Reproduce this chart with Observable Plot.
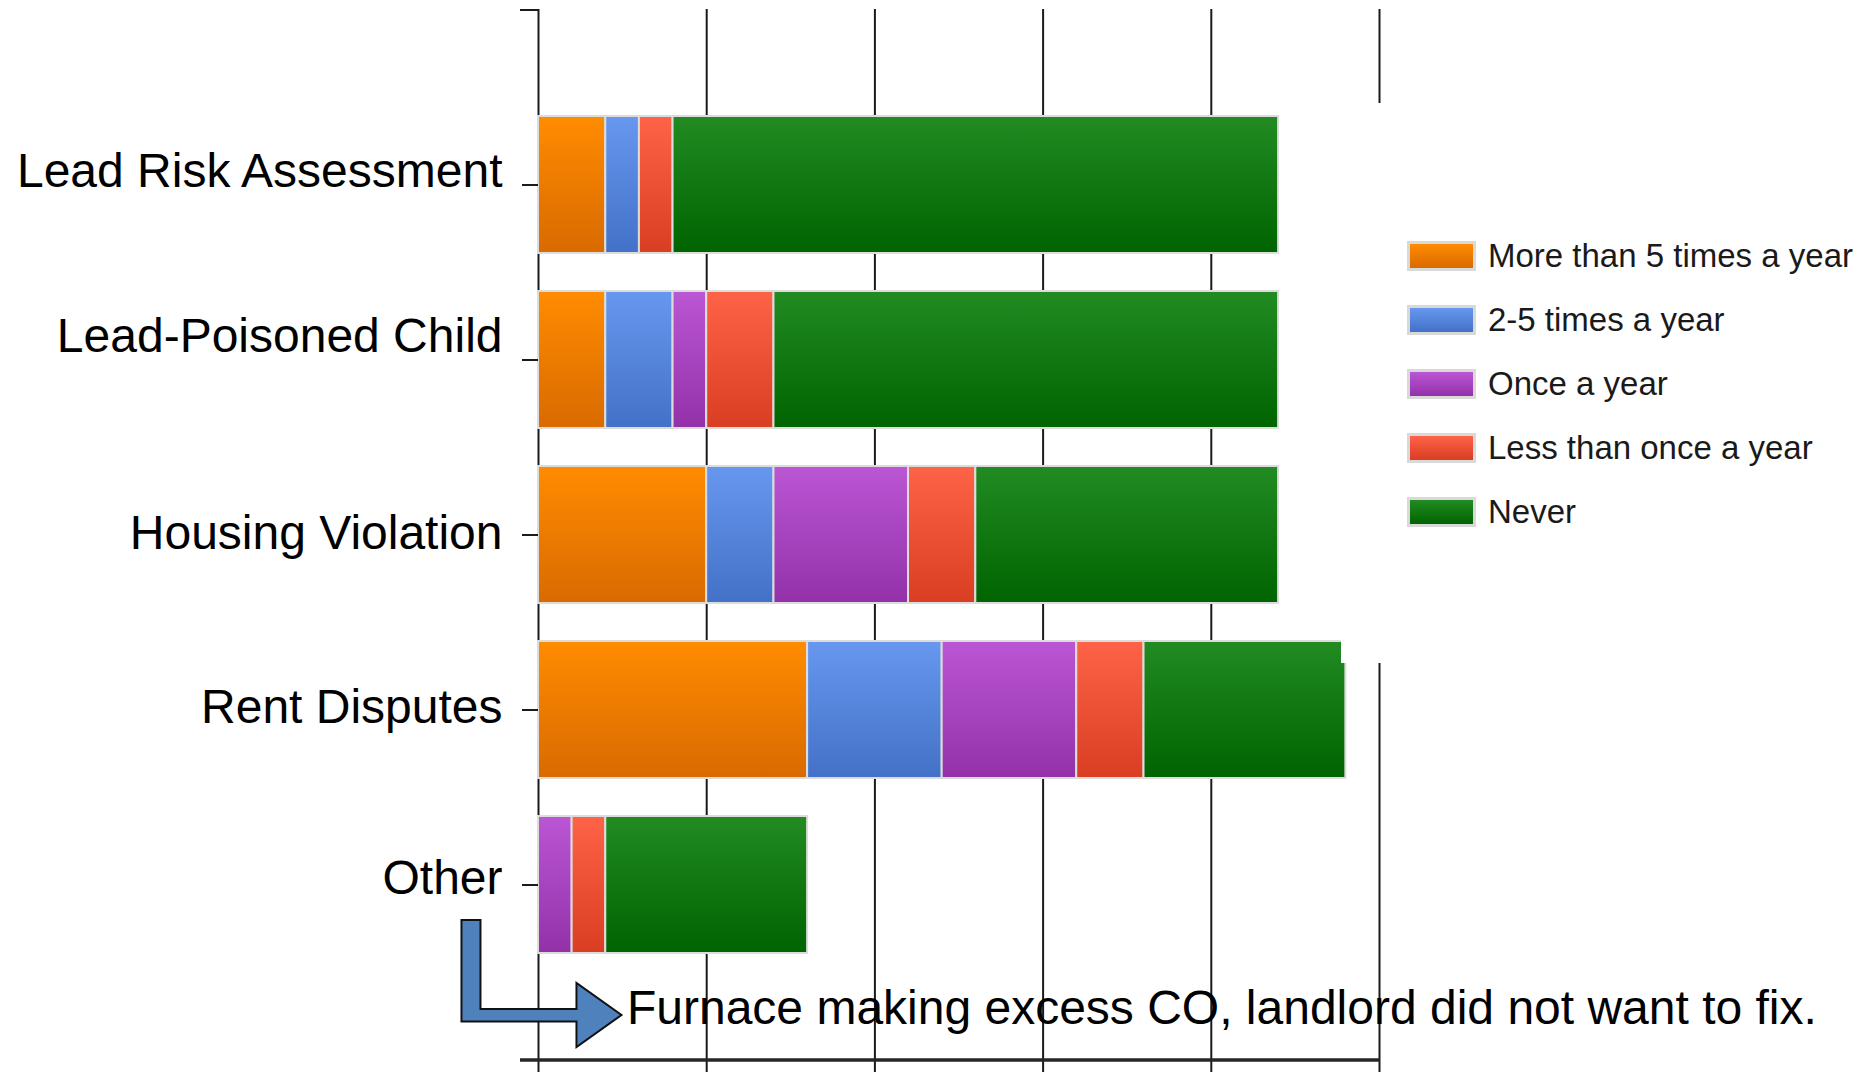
<!DOCTYPE html>
<html>
<head>
<meta charset="utf-8">
<script src="https://cdn.jsdelivr.net/npm/d3@7"></script>
<script src="https://cdn.jsdelivr.net/npm/@observablehq/plot@0.6"></script>
<style>
  html, body { margin: 0; padding: 0; background: #fff; }
  #wrap { position: relative; width: 1864px; height: 1072px; overflow: hidden; }
  #legend { position: absolute; left: 1341px; top: 103px; width: 523px; height: 560px; background: #fff;
            font-family: "Liberation Sans", Arial, sans-serif; font-size: 33px; color: #1a1a1a; }
  .row { position: absolute; left: 66px; height: 30px; display: flex; align-items: center; white-space: nowrap; }
  .sw { width: 63px; height: 24px; border: 3px solid #d9d9d9; margin-right: 12px; flex: none; }
</style>
</head>
<body>
<div id="wrap"><div id="chart"></div><div id="legend"></div></div>
<script>
// ---- data ----
const categories = ["Lead Risk Assessment", "Lead-Poisoned Child", "Housing Violation", "Rent Disputes", "Other"];
const series = ["More than 5 times a year", "2-5 times a year", "Once a year", "Less than once a year", "Never"];
const moreThan5 = [2, 2, 5, 8, 0];
const twoToFive = [1, 2, 2, 4, 0];
const onceAYear = [0, 1, 4, 4, 1];
const lessThanOnce = [1, 2, 2, 2, 1];
const never = [18, 15, 9, 6, 6];
const xTicks = [0, 5, 10, 15, 20, 25];
const noteText = "Furnace making excess CO, landlord did not want to fix.";
const noteX = 2.63;

// ---- styling ----
const gradStops = [
  ["#ff8c00", "#d96a00"],
  ["#6797ee", "#4371c8"],
  ["#bb56d4", "#9331a9"],
  ["#ff6347", "#d93d22"],
  ["#228b22", "#006400"]
];
const gradIds = series.map((s, i) => "grad" + i);
const labelNudge = [-13, -23, -1, -2, -6];

const valuesBySeries = [moreThan5, twoToFive, onceAYear, lessThanOnce, never];
const table = [];
categories.forEach((c, ci) => {
  series.forEach((s, si) => {
    const v = valuesBySeries[si][ci];
    if (v > 0) table.push({category: c, series: s, value: v});
  });
});

function defsLayer() {
  const defs = d3.create("svg:defs");
  gradIds.forEach((id, i) => {
    const g = defs.append("linearGradient").attr("id", id).attr("x1", 0).attr("x2", 0).attr("y1", 0).attr("y2", 1);
    g.append("stop").attr("offset", "0%").attr("stop-color", gradStops[i][0]);
    g.append("stop").attr("offset", "100%").attr("stop-color", gradStops[i][1]);
  });
  return defs.node();
}

function frameLayer(index, scales, values, dims) {
  const g = d3.create("svg:g");
  const left = dims.marginLeft, right = dims.width - dims.marginRight;
  const top = dims.marginTop, bottom = dims.height - dims.marginBottom;
  g.append("line").attr("x1", left - 18).attr("x2", right + 1).attr("y1", bottom).attr("y2", bottom)
    .attr("stroke", "#262626").attr("stroke-width", 3.5);
  g.append("line").attr("x1", left - 18).attr("x2", left + 1).attr("y1", top + 1).attr("y2", top + 1)
    .attr("stroke", "#1a1a1a").attr("stroke-width", 2);
  // block arrow pointing to the note
  const xs = scales && scales.x ? scales.x : (v => left + v * (right - left) / 25);
  const tx = xs(noteX) - 5, ty = bottom - 45;
  const pts = [[-160, -95], [-141, -95], [-141, -6], [-45, -6], [-45, -32], [0, 0], [-45, 32], [-45, 6.5], [-160, 6.5]];
  g.append("polygon").attr("points", pts.map(([dx, dy]) => `${tx + dx},${ty + dy}`).join(" "))
    .attr("fill", "#4f81bd").attr("stroke", "#111").attr("stroke-width", 2).attr("stroke-linejoin", "miter");
  return g.node();
}

const chart = Plot.plot({
  width: 1864,
  height: 1072,
  marginTop: 9,
  marginBottom: 12,
  marginLeft: 538,
  marginRight: 485,
  style: {fontFamily: "'Liberation Sans', Arial, sans-serif", background: "#fff", color: "#000"},
  x: {domain: [0, 25], axis: null},
  y: {type: "band", domain: categories, range: [76, 994], padding: 0.216, axis: null},
  color: {domain: series, range: gradIds.map(id => `url(#${id})`)},
  marks: [
    defsLayer,
    Plot.ruleX(xTicks, {x: d => d, stroke: "#1a1a1a", strokeWidth: 2}),
    Plot.axisX(xTicks, {anchor: "bottom", tickSize: 12, tickFormat: () => "", stroke: "#1a1a1a", strokeWidth: 2, label: null}),
    Plot.barX(table, Plot.stackX({x: "value", y: "category", fill: "series", inset: 0, stroke: "#dcdcdc", strokeWidth: 2})),
    Plot.axisY(categories, {anchor: "left", tickSize: 16, tickFormat: () => "", stroke: "#1a1a1a", strokeWidth: 2, label: null}),
    ...categories.map((c, i) => Plot.text([c], {
      y: d => d, text: d => d, frameAnchor: "left", textAnchor: "end", lineAnchor: "middle",
      dx: -36, dy: labelNudge[i], fontSize: 48, fill: "#000"
    })),
    frameLayer,
    Plot.text([noteText], {
      x: () => noteX, text: d => d, frameAnchor: "bottom", textAnchor: "start", lineAnchor: "middle",
      dy: -52, fontSize: 48, fill: "#000"
    })
  ]
});
document.getElementById("chart").appendChild(chart);

// legend
const legend = d3.select("#legend");
series.forEach((s, i) => {
  const row = legend.append("div").attr("class", "row").style("top", (138 + i * 64) + "px");
  row.append("div").attr("class", "sw")
    .style("background", `linear-gradient(to bottom, ${gradStops[i][0]}, ${gradStops[i][1]})`);
  row.append("span").text(s);
});
</script>
</body>
</html>
